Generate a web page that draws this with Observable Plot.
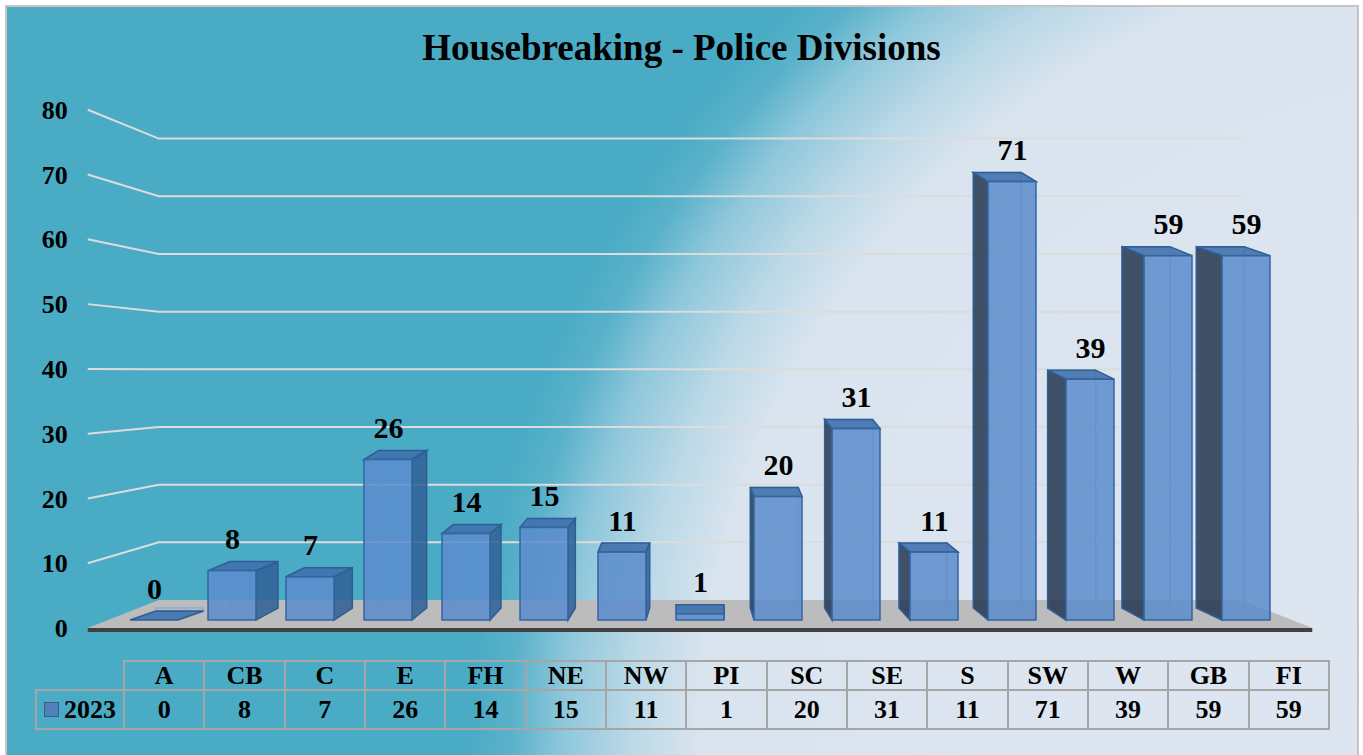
<!DOCTYPE html>
<html>
<head>
<meta charset="utf-8">
<script src="https://cdn.jsdelivr.net/npm/d3@7"></script>
<script src="https://cdn.jsdelivr.net/npm/@observablehq/plot@0.6"></script>
<style>
  body { margin: 0; background: #ffffff; font-family: "Liberation Serif", "Times New Roman", serif; }
  #wrap { position: relative; width: 1363px; height: 755px; overflow: hidden; }
  #bg { position: absolute; left: 5px; top: 5px; width: 1350px; height: 770px; border: 2px solid #c4c4c4;
        background: radial-gradient(circle 1400px at 1495px 745px, #dde5f0 0px, #dae4ef 800px, #bcd9e7 870px, #8ec7db 940px, #5ab2ca 990px, #4aabc5 1030px, #4aabc5 1400px); }
  #title { position: absolute; left: 0; top: 26px; width: 1363px; text-align: center; font-weight: bold; font-size: 37px; color: #000; }
  #chart { position: absolute; left: 0; top: 0; }
  #tbl { position: absolute; left: 35px; top: 660px; border-collapse: collapse; table-layout: fixed; width: 1293px;
         font-weight: bold; font-size: 26px; color: #000; }
  #tbl td { border: 2px solid #a6a6a6; text-align: center; vertical-align: middle; padding: 0; line-height: 1; }
  #tbl tr.head td { height: 27px; }
  #tbl tr.vals td { height: 37px; }
  #tbl td.blank { border-top: none; border-left: none; }
  #tbl td.legend { text-align: left; padding-left: 7px; white-space: nowrap; }
  #tbl .sw { display: inline-block; width: 13px; height: 13px; background: #4f81bd; border: 1px solid #385d8a; margin-right: 5px; vertical-align: 1px; }
</style>
</head>
<body>
<div id="wrap">
  <div id="bg"></div>
  <div id="chart"></div>
  <div id="title"></div>
  <table id="tbl"></table>
</div>
<script>
// ---- data ----
const chartTitle = "Housebreaking - Police Divisions";
const divisions = ["A", "CB", "C", "E", "FH", "NE", "NW", "PI", "SC", "SE", "S", "SW", "W", "GB", "FI"];
const counts2023 = [0, 8, 7, 26, 14, 15, 11, 1, 20, 31, 11, 71, 39, 59, 59];
const seriesName = "2023";
const yTicks = [0, 10, 20, 30, 40, 50, 60, 70, 80];

const rows = divisions.map((d, i) => ({division: d, count: counts2023[i]}));
const font = "Liberation Serif, Times New Roman, serif";

document.getElementById("title").textContent = chartTitle;

// perspective helpers (all relative to the Plot scales)
function geom(scales) {
  const x = scales.x, y = scales.y;
  const [r0, r1] = x.range();
  const vx = (r0 + r1) / 2, half = (r1 - r0) / 2;
  const y0 = y(0);
  return {
    x, y, vx, y0,
    bw: x.bandwidth(),
    backY: v => y0 - 20 + (y(v) - y0) * 0.934,
    frontY: v => y0 + 8 + (y(v) - y0) * 1.049,
    backL: vx - half * 0.922, backR: vx + half * 0.922,
    frontL: vx - half * 1.043, frontR: vx + half * 1.043
  };
}

// floor, back-wall grid and axis labels
function scene(index, scales) {
  const G = geom(scales);
  const g = d3.create("svg:g");
  for (const v of yTicks) {
    if (v === 0) continue;
    g.append("polyline")
      .attr("points", [[G.frontL, G.frontY(v)], [G.backL, G.backY(v)], [G.backR, G.backY(v)]].map(p => p.join(",")).join(" "))
      .attr("fill", "none").attr("stroke", "#dcdcdc").attr("stroke-width", 2);
  }
  g.append("polygon")
    .attr("points", [[G.frontL, G.frontY(0)], [G.frontR, G.frontY(0)], [G.backR, G.backY(0)], [G.backL, G.backY(0)]].map(p => p.join(",")).join(" "))
    .attr("fill", "#bcbcbc");
  g.append("rect")
    .attr("x", G.frontL).attr("y", G.frontY(0)).attr("width", G.frontR - G.frontL).attr("height", 4)
    .attr("fill", "#404040");
  g.selectAll("text.tick").data(yTicks).join("text")
    .attr("x", G.frontL - 20).attr("y", v => G.frontY(v))
    .attr("text-anchor", "end").attr("dy", "0.35em")
    .attr("font-family", font).attr("font-weight", "bold").attr("font-size", 26).attr("fill", "#000")
    .text(v => v);
  return g.node();
}

// 3D parts of the bars (back edges, side faces, top faces)
function bars3d(index, scales) {
  const G = geom(scales);
  const g = d3.create("svg:g");
  const inset = 15;
  const k = 0.047, dyT = -9, dyB = -12;
  rows.forEach(d => {
    const L = G.x(d.division) + inset, R = G.x(d.division) + G.bw - inset;
    const c = (L + R) / 2;
    const yT = G.y(d.count), yB = G.y(0);
    const dx = k * (G.vx - c);
    const pts = a => a.map(p => p.join(",")).join(" ");
    // back edges seen through the transparent bar
    g.append("polygon").attr("points", pts([[L + dx, yT + dyT], [R + dx, yT + dyT], [R + dx, yB + dyB], [L + dx, yB + dyB]]))
      .attr("fill", "none").attr("stroke", "#7aa6dc").attr("stroke-opacity", 0.7).attr("stroke-width", 1.5);
    // side face
    const sx = dx >= 0 ? R : L;
    if (d.count > 0) {
      g.append("polygon").attr("points", pts([[sx, yT], [sx + dx, yT + dyT], [sx + dx, yB + dyB], [sx, yB]]))
        .attr("fill", dx >= 0 ? "#2f5f94" : "#24364f").attr("fill-opacity", 0.85)
        .attr("stroke", "#2f5d96").attr("stroke-width", 1.5);
    }
    // top face
    g.append("polygon").attr("points", pts([[L, yT], [R, yT], [R + dx, yT + dyT], [L + dx, yT + dyT]]))
      .attr("fill", "#3f71ad").attr("fill-opacity", 0.9)
      .attr("stroke", "#2f5d96").attr("stroke-width", 1.5);
  });
  return g.node();
}

const plot = Plot.plot({
  width: 1363,
  height: 755,
  marginLeft: 113,
  marginRight: 76,
  marginTop: 126,
  marginBottom: 135,
  style: {background: "transparent", overflow: "visible"},
  x: {type: "band", domain: divisions, padding: 0, axis: null},
  y: {domain: [0, 80], axis: null},
  marks: [
    scene,
    bars3d,
    Plot.barY(rows, {x: "division", y: "count", fill: "#5a8ccb", fillOpacity: 0.85, stroke: "#3464a2", strokeWidth: 1.5, insetLeft: 15, insetRight: 15}),
    Plot.text(rows, {x: "division", y: "count", text: d => String(d.count), dy: -22, lineAnchor: "bottom",
      fontSize: 30, fontWeight: "bold", fontFamily: font, fill: "#000"})
  ]
});
document.getElementById("chart").appendChild(plot);

// data table under the chart
const tbl = d3.select("#tbl");
const cg = tbl.append("colgroup");
cg.append("col").style("width", "88px");
divisions.forEach(() => cg.append("col").style("width", (1205 / divisions.length) + "px"));
const h = tbl.append("tr").attr("class", "head");
h.append("td").attr("class", "blank");
divisions.forEach(d => h.append("td").text(d));
const r = tbl.append("tr").attr("class", "vals");
const lc = r.append("td").attr("class", "legend");
lc.append("span").attr("class", "sw");
lc.append("span").text(seriesName);
counts2023.forEach(v => r.append("td").text(v));
</script>
</body>
</html>
